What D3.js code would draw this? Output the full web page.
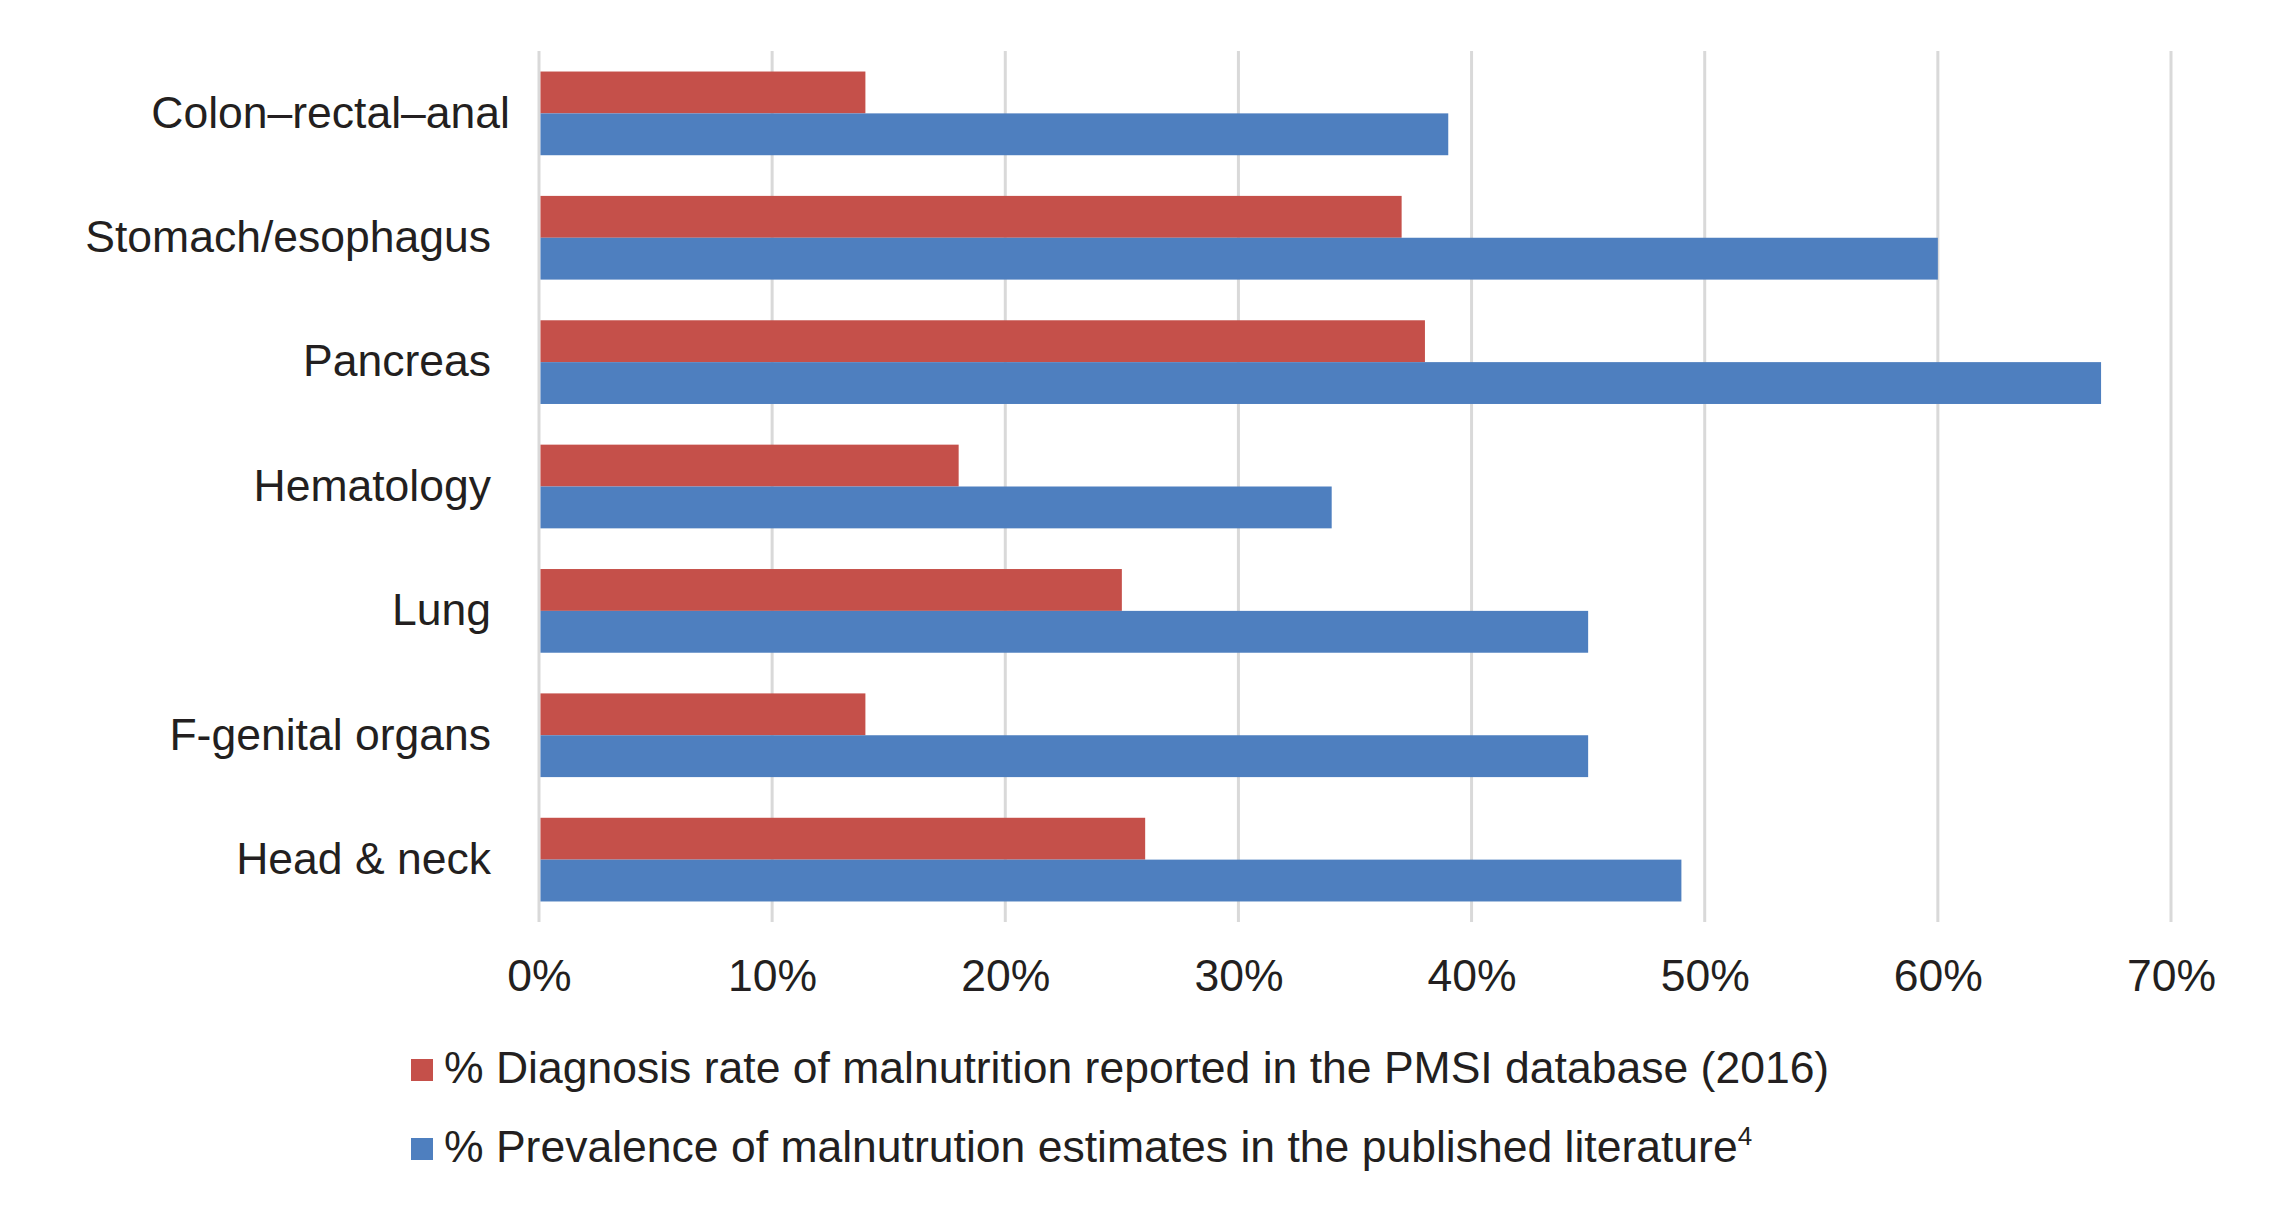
<!DOCTYPE html>
<html>
<head>
<meta charset="utf-8">
<script src="https://cdn.jsdelivr.net/npm/d3@7"></script>
<style>
  body { margin: 0; background: #fff; }
  text { font-family: "Liberation Sans", Arial, sans-serif; fill: #231F20; }
</style>
</head>
<body>
<div id="chart"></div>
<script>
// data
const categories = ['Colon–rectal–anal', 'Stomach/esophagus', 'Pancreas', 'Hematology', 'Lung', 'F-genital organs', 'Head & neck'];
const diagnosisRate = [0.14, 0.37, 0.38, 0.18, 0.25, 0.14, 0.26];
const prevalence    = [0.39, 0.60, 0.67, 0.34, 0.45, 0.45, 0.49];
const seriesNames = ['% Diagnosis rate of malnutrition reported in the PMSI database (2016)',
                     '% Prevalence of malnutrution estimates in the published literature'];
const xTicks = [0, 0.1, 0.2, 0.3, 0.4, 0.5, 0.6, 0.7];

(function () {
  const W = 2295, H = 1219;
  const margin = { top: 51, left: 539, right: 124, bottom: 297 };
  const width = W - margin.left - margin.right;
  const height = H - margin.top - margin.bottom;
  const colors = ['#C5504A', '#4E7FBF'];

  const svg = d3.select('#chart').append('svg')
    .attr('width', W).attr('height', H)
    .attr('viewBox', [0, 0, W, H]);

  const g = svg.append('g').attr('transform', `translate(${margin.left},${margin.top})`);

  const x = d3.scaleLinear().domain([0, 0.7]).range([0, width]);
  const y = d3.scaleBand().domain(categories).range([0, height])
    .paddingInner(0.327).paddingOuter(0.165);
  const sub = d3.scaleBand().domain([0, 1]).range([0, y.bandwidth()]);

  /* gridlines */
  g.append('g').selectAll('line')
    .data(xTicks)
    .join('line')
      .attr('x1', d => x(d)).attr('x2', d => x(d))
      .attr('y1', 0).attr('y2', height)
      .attr('stroke', '#D9D9D9')
      .attr('stroke-width', 3);

  /* bars */
  const rows = categories.map((c, i) => ({ cat: c, vals: [diagnosisRate[i], prevalence[i]] }));
  const groups = g.append('g').selectAll('g')
    .data(rows)
    .join('g')
      .attr('transform', d => `translate(0,${y(d.cat)})`);

  groups.selectAll('rect')
    .data(d => d.vals.map((v, k) => ({ v, k })))
    .join('rect')
      .attr('x', x(0) + 1.5)
      .attr('y', d => sub(d.k))
      .attr('width', d => x(d.v) - x(0) - 1.5)
      .attr('height', sub.bandwidth())
      .attr('fill', d => colors[d.k]);

  /* category axis */
  const yAxis = g.append('g')
    .call(d3.axisLeft(y).tickSize(0).tickPadding(48));
  yAxis.select('.domain').remove();
  yAxis.selectAll('text')
    .style('font-size', '44.5px')
    .attr('fill', '#231F20');
  // first label sits a little further right in the original
  yAxis.selectAll('text').filter(d => d === categories[0]).attr('dx', 19);

  /* value axis */
  const xAxis = g.append('g')
    .attr('transform', `translate(0,${height})`)
    .call(d3.axisBottom(x).tickValues(xTicks).tickFormat(d3.format('.0%')).tickSize(0).tickPadding(37));
  xAxis.select('.domain').remove();
  xAxis.selectAll('text')
    .style('font-size', '44.5px')
    .attr('fill', '#231F20');

  /* legend */
  const legend = svg.append('g').attr('transform', 'translate(411,0)');
  const legendY = [1083, 1162];
  seriesNames.forEach((name, k) => {
    legend.append('rect')
      .attr('x', 0).attr('y', legendY[k] - 24)
      .attr('width', 22).attr('height', 22)
      .attr('fill', colors[k]);
    const t = legend.append('text')
      .attr('x', 33).attr('y', legendY[k])
      .style('font-size', '44.5px')
      .text(name);
    if (k === 1) {
      t.append('tspan')
        .attr('dy', -17)
        .style('font-size', '26px')
        .text('4');
    }
  });
})();
</script>
</body>
</html>
